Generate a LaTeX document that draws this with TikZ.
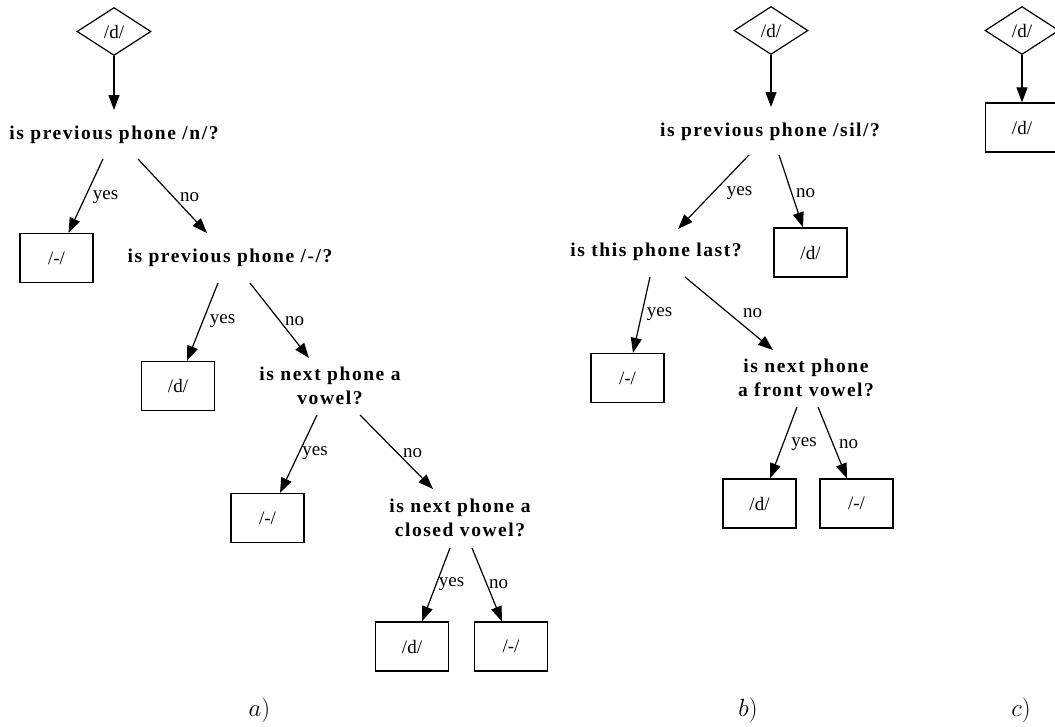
\documentclass[tikz,border=0pt]{standalone}
\usepackage{fontspec}
\setmainfont{Liberation Serif}
\newfontfamily\qfont{Liberation Serif}[LetterSpace=8]
\usetikzlibrary{shapes.geometric,arrows.meta,calc}

\begin{document}
\begin{tikzpicture}[x=1pt,y=-1pt,
  leaf/.style={draw,line width=1.3pt,minimum width=73pt,minimum height=49pt,inner sep=0pt,
    font=\fontsize{19}{22}\selectfont},
  root/.style={draw,diamond,line width=1.2pt,minimum width=74pt,minimum height=48pt,inner sep=0pt,
    font=\fontsize{19}{22}\selectfont},
  question/.style={align=center,inner sep=0pt,font=\qfont\bfseries\fontsize{19.5}{24}\selectfont},
  answer/.style={inner sep=0pt,font=\fontsize{19}{22}\selectfont},
  edge/.style={line width=1.2pt,-{Triangle[length=15pt,width=11pt]}},
  caption/.style={inner sep=0pt,font=\fontsize{24}{26}\selectfont}]

\useasboundingbox (0,0) rectangle (1055,726);
\clip (0,0) rectangle (1055,726);

% ---------- tree a ----------
\node[root] (da) at (114,31.5) {/d/};
\node[question] (q1) at (114,135) {is previous phone /n/?};
\node[leaf] (b1) at (56.5,258) {/-/};
\node[question] (q2) at (230,258) {is previous phone /-/?};
\node[leaf] (b2) at (178,386) {/d/};
\node[question] (q3) at (330,386) {is next phone a\\vowel?};
\node[leaf] (b3) at (267.5,518) {/-/};
\node[question] (q4) at (460,518) {is next phone a\\closed vowel?};
\node[leaf] (b4) at (412,646.5) {/d/};
\node[leaf] (b5) at (511,646.5) {/-/};

\draw[edge] (da.south) -- ($(q1)+(0,-25)$);
\draw[edge] ($(q1)+(-11,24)$) -- ($(b1.north)+(12,0)$);
\draw[edge] ($(q1)+(24,24)$) -- ($(q2)+(-23,-25)$);
\draw[edge] ($(q2)+(-12,25)$) -- ($(b2.north)+(9,0)$);
\draw[edge] ($(q2)+(20,25)$) -- ($(q3)+(-21,-28)$);
\draw[edge] ($(q3)+(-13,29)$) -- ($(b3.north)+(12.5,0)$);
\draw[edge] ($(q3)+(30,29)$) -- ($(q4)+(-27,-29)$);
\draw[edge] ($(q4)+(-10,30)$) -- ($(b4.north)+(10,0)$);
\draw[edge] ($(q4)+(12,30)$) -- ($(b5.north)+(-9,0)$);

\node[answer] (y1) at (105.5,197) {yes};
\node[answer] (n1) at (189.5,197) {no};
\node[answer] (y2) at (222.5,321) {yes};
\node[answer] (n2) at (294.5,321) {no};
\node[answer] (y3) at (315,453) {yes};
\node[answer] (n3) at (412.5,453) {no};
\node[answer] (y4) at (451.5,584) {yes};
\node[answer] (n4) at (498.5,584) {no};

\node[caption] (ca) at (259.5,710) {$a)$};

% ---------- tree b ----------
\node[root] (db) at (771,30.5) {/d/};
\node[question] (q5) at (770,132) {is previous phone /sil/?};
\node[question] (q6) at (656,252) {is this phone last?};
\node[leaf] (b6) at (810.5,252.5) {/d/};
\node[leaf] (b7) at (627.5,378) {/-/};
\node[question] (q7) at (806,378) {is next phone\\a front vowel?};
\node[leaf] (b8) at (759.5,503.5) {/d/};
\node[leaf] (b9) at (856.5,503.5) {/-/};

\draw[edge] (db.south) -- ($(q5)+(1,-25)$);
\draw[edge] ($(q5)+(-21,23)$) -- ($(q6)+(22,-23)$);
\draw[edge] ($(q5)+(9,23)$) -- ($(b6.north)+(-7.5,0)$);
\draw[edge] ($(q6)+(-6,25)$) -- ($(b7.north)+(5.5,0)$);
\draw[edge] ($(q6)+(29,25)$) -- ($(q7)+(-33,-28)$);
\draw[edge] ($(q7)+(-9,29)$) -- ($(b8.north)+(10.5,0)$);
\draw[edge] ($(q7)+(12,29)$) -- ($(b9.north)+(-9.5,0)$);

\node[answer] (y5) at (739.5,193) {yes};
\node[answer] (n5) at (805.5,193) {no};
\node[answer] (y6) at (659.5,314) {yes};
\node[answer] (n6) at (752.5,313) {no};
\node[answer] (y7) at (804,444) {yes};
\node[answer] (n7) at (848.5,444) {no};

\node[caption] (cb) at (748,710) {$b)$};

% ---------- tree c ----------
\node[root] (dc) at (1022,30.5) {/d/};
\node[leaf] (b10) at (1022,127.5) {/d/};
\draw[edge] (dc.south) -- (b10.north);

\node[caption] (cc) at (1021,710) {$c)$};
\end{tikzpicture}
\end{document}
